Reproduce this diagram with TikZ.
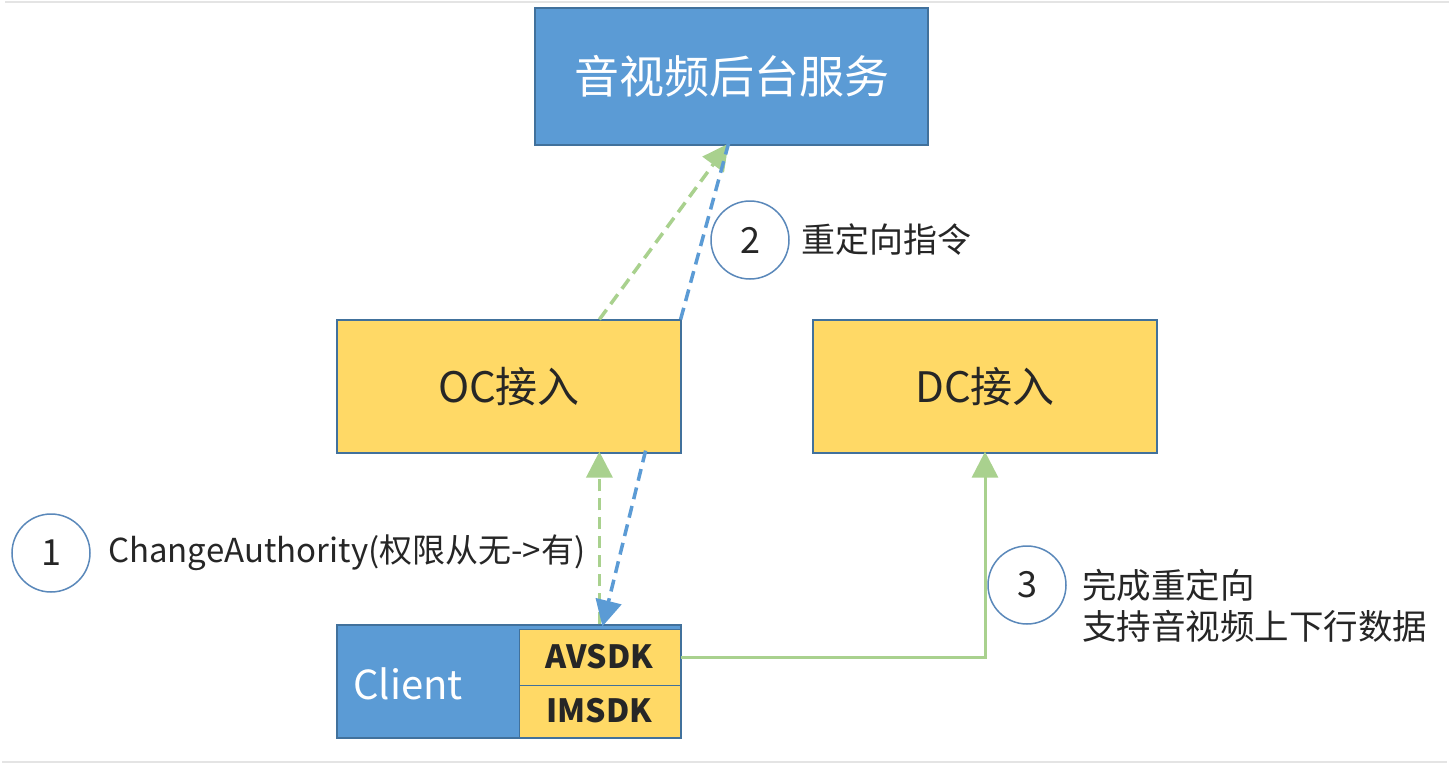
\documentclass[tikz,border=0pt]{standalone}
\usepackage{fontspec}
\setmainfont{Noto Sans CJK SC}
\usetikzlibrary{arrows.meta,calc}
\definecolor{bluebox}{HTML}{5B9BD5}
\definecolor{blueedge}{HTML}{41719C}
\definecolor{yellowbox}{HTML}{FFD966}
\definecolor{greenln}{HTML}{A9D18E}
\definecolor{blueln}{HTML}{5B9BD5}
\definecolor{circedge}{HTML}{5A88BA}
\definecolor{txt}{HTML}{262626}
\definecolor{rule}{HTML}{E4E4E4}
\tikzset{
  bluebx/.style={draw=blueedge,line width=1.2pt,fill=bluebox,text=white,inner sep=0pt},
  yellowbx/.style={draw=blueedge,line width=1.2pt,fill=yellowbox,text=txt,inner sep=0pt},
  numcirc/.style={circle,draw=circedge,line width=1.5pt,minimum size=78pt,inner sep=0pt,text=txt,font=\fontsize{36}{40}\selectfont},
  lbl/.style={anchor=west,text=txt,inner sep=0pt,font=\fontsize{34}{40}\selectfont},
  gdash/.style={draw=greenln,line width=3.5pt,dash pattern=on 12pt off 7pt},
  bdash/.style={draw=blueln,line width=3.5pt,dash pattern=on 12pt off 7pt},
  tip/.style={-{Triangle[length=26pt,width=26pt]}},
}
\begin{document}
\begin{tikzpicture}[x=1pt,y=-1pt]
\useasboundingbox (0,0) rectangle (1449,764);
\fill[white] (0,0) rectangle (1449,764);
\draw[rule,line width=2.5pt] (5,2) -- (1449,2);
\draw[rule,line width=2.5pt] (2,762) -- (1447,762);

\node[bluebx,minimum width=393pt,minimum height=137pt,font=\fontsize{45}{50}\selectfont] (svc) at (731.5,76.5) {音视频后台服务};
\node[yellowbx,minimum width=344pt,minimum height=133pt,font=\fontsize{42}{48}\selectfont] (oc) at (509,386.5) {OC接入};
\node[yellowbx,minimum width=344pt,minimum height=133pt,font=\fontsize{42}{48}\selectfont] (dc) at (985,386.5) {DC接入};

\node[bluebx,minimum width=344pt,minimum height=113pt] (client) at (509,681.5) {};
\node[anchor=west,text=white,inner sep=0pt,font=\fontsize{40}{46}\selectfont] (clienttxt) at (353,684) {Client};
\node[yellowbx,line width=1pt,minimum width=161pt,minimum height=56pt,font=\bfseries\fontsize{32}{36}\selectfont] (av) at (599.5,657) {AVSDK};
\node[yellowbx,line width=1pt,minimum width=161pt,minimum height=52pt,font=\bfseries\fontsize{32}{36}\selectfont] (im) at (599.5,711) {IMSDK};

\node[numcirc] (c1) at (51,553) {1};
\node[numcirc] (c2) at (750,240) {2};
\node[numcirc] (c3) at (1027,585) {3};
\node[lbl,font=\fontsize{33}{40}\selectfont] (l1) at (108,553) {ChangeAuthority(权限从无->有)};
\node[lbl] (l2) at (801,240) {重定向指令};
\node[lbl,align=left,font=\fontsize{34.5}{41}\selectfont] (l3) at (1082,606) {完成重定向\\支持音视频上下行数据};

% arrows between OC and service
\draw[gdash,tip] ([xshift=263pt]oc.north west) -- ([xshift=-3pt,yshift=2pt]svc.south);
\draw[bdash] ([xshift=-1pt]oc.north east) -- ([xshift=-3pt,yshift=2pt]svc.south);
% arrows between client and OC
\draw[gdash,tip] ([xshift=263pt]client.north west) -- ([xshift=263pt,yshift=2pt]oc.south west);
\draw[bdash,tip] ([xshift=-36pt,yshift=3pt]oc.south east) -- ([xshift=266pt,yshift=-2pt]client.north west);
% client to DC
\draw[draw=greenln,line width=3pt,tip] (av.east) -| ([yshift=2pt]dc.south);
\end{tikzpicture}
\end{document}
